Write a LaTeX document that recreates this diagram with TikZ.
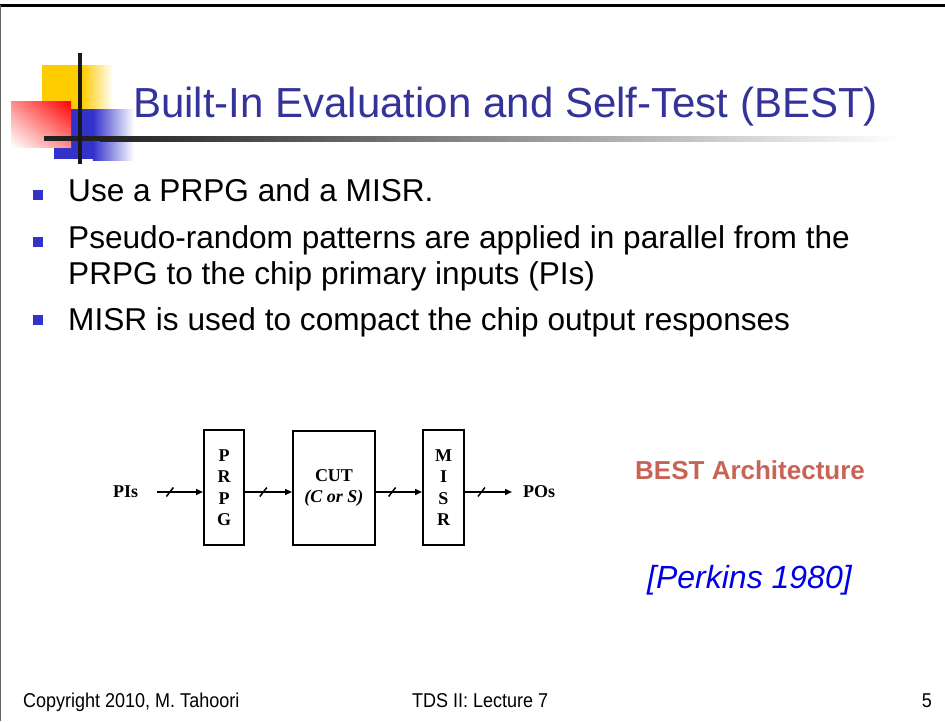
\documentclass[tikz,border=0pt]{standalone}
\usepackage{fontspec}
\usetikzlibrary{arrows.meta,shadings}
\setmainfont{Liberation Sans}
\newfontfamily\serf{Liberation Serif}
\newfontfamily\narrowf[FakeStretch=0.9]{Liberation Sans}
\definecolor{titleblue}{RGB}{51,51,153}
\definecolor{bulletblue}{RGB}{51,51,204}
\definecolor{logoyellow}{RGB}{255,204,0}
\definecolor{logoblue}{RGB}{51,51,204}
\definecolor{bestred}{RGB}{200,100,85}
\definecolor{citeblue}{RGB}{0,0,230}
\tikzset{
  blk/.style={draw, line width=2pt, inner sep=0pt, align=center,
    font=\serf\bfseries\fontsize{18}{21.5}\selectfont},
  lbl/.style={inner sep=0pt, font=\serf\bfseries\fontsize{18}{21}\selectfont},
  arr/.style={line width=1.5pt, -{Triangle[length=7pt,width=6pt]}},
  slashmark/.style={line width=1.5pt},
  body/.style={anchor=base west, inner sep=0pt, font=\fontsize{31.6}{36}\selectfont},
  bul/.style={fill=bulletblue, inner sep=0pt, minimum size=10pt},
  foot/.style={anchor=base west, inner sep=0pt, font=\narrowf\fontsize{20}{22}\selectfont}
}
\begin{document}
\begin{tikzpicture}[x=1pt,y=-1pt]
\useasboundingbox (0,0) rectangle (945,721);
\fill[white] (0,0) rectangle (945,721);
% frame
\draw[line width=2.5pt, black] (0,5.3) -- (945,5.3);
\draw[line width=1.2pt, black!60] (0.6,5) -- (0.6,721);
% logo
\fill[logoyellow] (42,65) rectangle (82,109);
\shade[left color=logoyellow, right color=white] (81.9,65) rectangle (113,109);
\fill[logoblue] (54,109) rectangle (93,159);
\shade[left color=logoblue, right color=white] (92.9,109) rectangle (134,160);
\shade[upper right=red, lower right=red!45, upper left=red!45, lower left=white] (11,101) rectangle (71,147);
\shade[left color=black!87, right color=white] (100,136) rectangle (900,141);
\fill[black!87] (44,136) rectangle (100.2,141);
\fill[black!90] (78,53) rectangle (82,164);
% title
\node[anchor=base west, inner sep=0pt, text=titleblue, font=\fontsize{42}{46}\selectfont] (title) at (133,117) {Built-In Evaluation and Self-Test (BEST)};
% bullets
\node[bul] (b1) at (38,195) {};
\node[body] (t1) at (68,201) {Use a PRPG and a MISR.};
\node[bul] (b2) at (38,242) {};
\node[body] (t2) at (68,248) {Pseudo-random patterns are applied in parallel from the};
\node[body] (t3) at (68,284) {PRPG to the chip primary inputs (PIs)};
\node[bul] (b3) at (38,320) {};
\node[body] (t4) at (68,330) {MISR is used to compact the chip output responses};
% diagram
\node[blk, minimum width=40pt, minimum height=115pt] (prpg) at (224,487.5) {P\\R\\P\\G};
\node[blk, minimum width=82pt, minimum height=114pt] (cut) at (334,488) {CUT\\\textit{(C or S)}};
\node[blk, minimum width=41pt, minimum height=115pt] (misr) at (443.5,487.5) {M\\I\\S\\R};
\node[lbl, anchor=west] (pis) at (113,492) {PIs};
\node[lbl, anchor=west] (pos) at (523,492) {POs};
\coordinate (a0) at (157,492);
\coordinate (a5) at (512,492);
\draw[arr] (a0) -- coordinate[pos=0.28] (s1) (prpg.west |- a0);
\draw[arr] (prpg.east |- a0) -- coordinate[pos=0.39] (s2) (cut.west |- a0);
\draw[arr] (cut.east |- a0) -- coordinate[pos=0.35] (s3) (misr.west |- a0);
\draw[arr] (misr.east |- a0) -- coordinate[pos=0.35] (s4) (a5);
\foreach \s in {s1,s2,s3,s4}
  \draw[slashmark] ([xshift=-3.5pt,yshift=-4.5pt]\s) -- ([xshift=3.5pt,yshift=4.5pt]\s);
% side labels
\node[anchor=base west, inner sep=0pt, text=bestred, font=\bfseries\fontsize{26}{30}\selectfont] (best) at (635,479) {BEST Architecture};
\node[anchor=base west, inner sep=0pt, text=citeblue, font=\itshape\fontsize{32}{36}\selectfont] (cite) at (647,588) {[Perkins 1980]};
% footer
\node[foot] (f1) at (23,707) {Copyright 2010, M. Tahoori};
\node[foot] (f2) at (412,707) {TDS II: Lecture 7};
\node[foot, anchor=base east] (f3) at (932,707) {5};
\end{tikzpicture}
\end{document}
